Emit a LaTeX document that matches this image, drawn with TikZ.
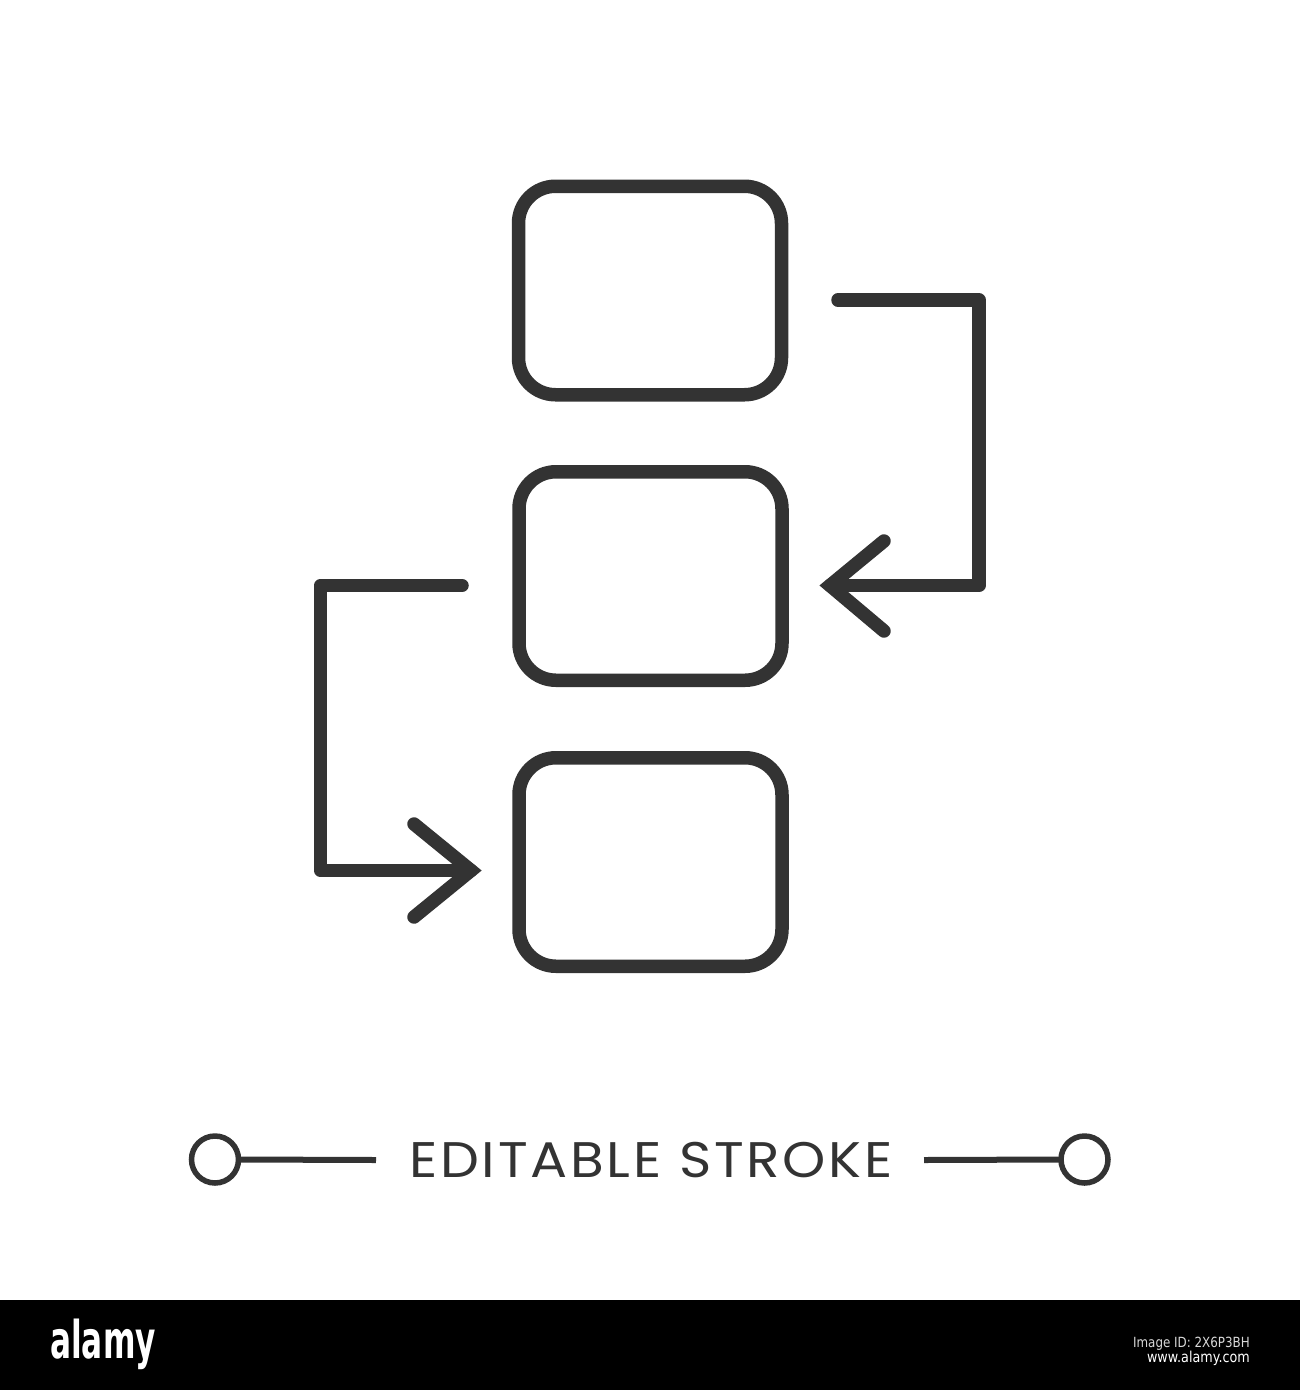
\documentclass[tikz,border=0pt]{standalone}
\usepackage{fontspec}
\setmainfont{Poppins}
\newfontfamily\spacedfont[LetterSpace=5]{Poppins}
\newfontfamily\logofont{DejaVu Sans}
\definecolor{ink}{HTML}{333333}
\begin{document}
\begin{tikzpicture}[x=1pt,y=-1pt,
  box/.style={draw=ink,line width=13.5pt,rounded corners=37pt,minimum width=263pt,minimum height=208.5pt,inner sep=0pt,outer sep=0pt,shape=rectangle},
  link/.style={draw=ink,line width=13.5pt,line cap=round,line join=round},
  head/.style={draw=ink,line width=13.5pt,line cap=round,line join=miter},
  ring/.style={draw=ink,line width=5.5pt,circle,minimum size=47pt,inner sep=0pt,outer sep=0pt},
  rule/.style={draw=ink,line width=6pt}]
\useasboundingbox (0,0) rectangle (1300,1390);
\fill[white] (0,0) rectangle (1300,1300);
% boxes
\node[box] (b1) at (650,290.5) {};
\node[box] (b2) at (650.5,576) {};
\node[box] (b3) at (650.5,862) {};
% right connector b1 -> b2
\coordinate (rs) at (838,300);
\coordinate (rc1) at (979,300);
\coordinate (rc2) at (979,585.5);
\coordinate (rt) at (830,585.5);
\coordinate (rw1) at (884,541);
\coordinate (rw2) at (884,631);
\draw[link] (rs) -- (rc1) -- (rc2) -- (rt);
\draw[head] (rw1) -- (rt) -- (rw2);
% left connector b2 -> b3
\coordinate (ls) at (462,585.5);
\coordinate (lc1) at (320.5,585.5);
\coordinate (lc2) at (320.5,870.5);
\coordinate (lt) at (471,870.5);
\coordinate (lw1) at (414,824);
\coordinate (lw2) at (414,917);
\draw[link] (ls) -- (lc1) -- (lc2) -- (lt);
\draw[head] (lw1) -- (lt) -- (lw2);
% editable stroke
\node[ring] (c1) at (215,1159.5) {};
\node[ring] (c2) at (1084.5,1159.5) {};
\coordinate (l1) at (376,1160);
\coordinate (l2) at (924,1160);
\draw[rule] (c1.east) -- (l1);
\draw[rule] (l2) -- (c2.west);
\node[anchor=base west,inner sep=0pt,text=ink] (lbl) at (409,1177) {\scalebox{1.1}[1]{\spacedfont\fontsize{50}{50}\selectfont EDITABLE STROKE}};
% watermark band
\fill[black] (0,1300) rectangle (1300,1390);
\node[anchor=base west,inner sep=0pt,text=white] (logo) at (50,1358) {\scalebox{0.6}[1]{\logofont\bfseries\fontsize{52}{52}\selectfont alamy}};
\node[anchor=base east,inner sep=0pt,text=white!85!black] (iid) at (1250,1347) {\scalebox{0.85}[1]{\logofont\fontsize{14}{14}\selectfont Image ID: 2X6P3BH}};
\node[anchor=base east,inner sep=0pt,text=white] (www) at (1250,1362) {\scalebox{0.85}[1]{\logofont\fontsize{15}{15}\selectfont www.alamy.com}};
\end{tikzpicture}
\end{document}
